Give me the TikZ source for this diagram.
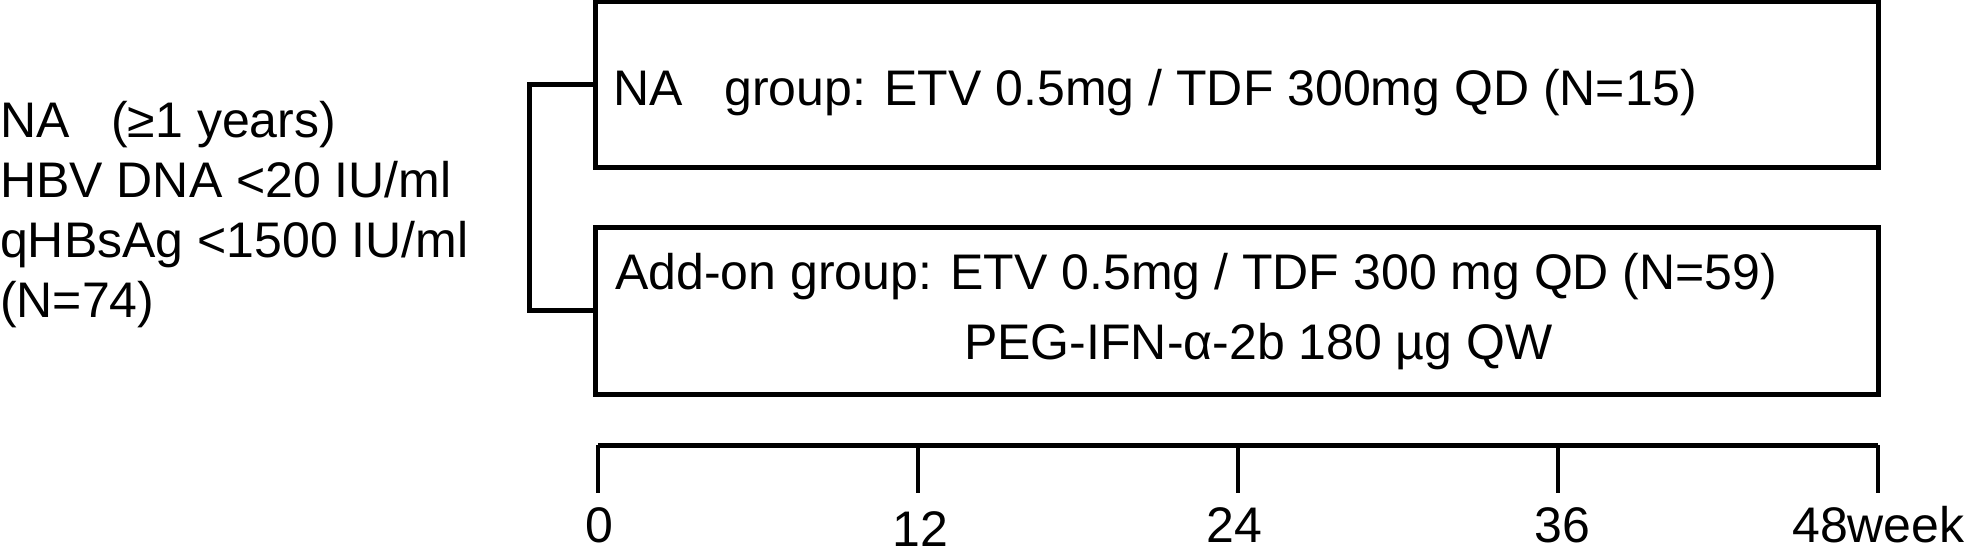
\documentclass[tikz,border=0pt]{standalone}
\usepackage{fontspec}
\setmainfont{Liberation Sans}
\begin{document}
\begin{tikzpicture}[x=1pt,y=-1pt,
  every node/.style={font=\fontsize{50}{60}\selectfont},
  txt/.style={inner sep=0pt,anchor=base west},
  armbox/.style={draw,line width=5pt,minimum width=1283pt,minimum height=166pt,inner sep=0pt},
  conn/.style={line width=5pt},
  tick/.style={line width=4pt},
  ticklabel/.style={inner sep=0pt,anchor=base}]
\useasboundingbox (0,0) rectangle (1973,553);
% left criteria
\node[txt] (c1) at (0,138) {NA\hspace{0.834em}(≥1 years)};
\node[txt] (c2) at (0,198) {HBV DNA <20 IU/ml};
\node[txt] (c3) at (0,258) {qHBsAg <1500 IU/ml};
\node[txt] (c4) at (0,317) {(N=74)};
% boxes
\node[armbox] (boxA) at (1236.5,85) {};
\node[armbox] (boxB) at (1236.5,311) {};
\node[txt] (tA) at (613,106) {NA\hspace{0.834em}group: ETV 0.5mg / TDF 300mg QD (N=15)};
\node[txt] (tB1) at (615,290) {Add-on group: ETV 0.5mg / TDF 300 mg QD (N=59)};
\node[txt] (tB2) at (964,359) {PEG-IFN-α-2b 180 µg QW};
% bracket
\draw[conn] (boxA.west) -- ++(-63,0) |- (boxB.west);
% timeline
\coordinate (t0) at (598,445);
\coordinate (t1) at (918,445);
\coordinate (t2) at (1238,445);
\coordinate (t3) at (1558,445);
\coordinate (t4) at (1878,445);
\draw[conn] (t0) -- (t4);
\foreach \i in {0,...,4} {
  \draw[tick] (t\i) -- ++(0,48);
}
\node[ticklabel] (l0) at (599,542) {0};
\node[ticklabel] (l1) at (920,546) {12};
\node[ticklabel] (l2) at (1234,542) {24};
\node[ticklabel] (l3) at (1562,542) {36};
\node[txt] (l4) at (1792,542) {48week};
\end{tikzpicture}
\end{document}
